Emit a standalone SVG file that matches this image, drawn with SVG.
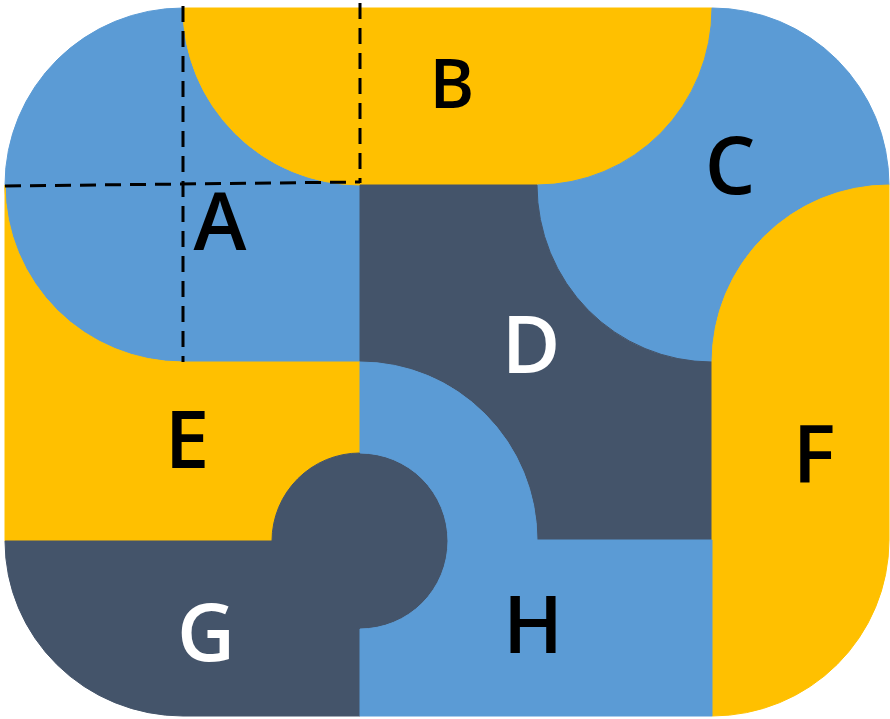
<svg xmlns="http://www.w3.org/2000/svg" width="890" height="719" viewBox="0 0 890 719">
<style>
.y{fill:#FFC000;stroke:#FFC000;stroke-width:1}
.b{fill:#5B9BD5;stroke:#5B9BD5;stroke-width:1}
.d{fill:#44546A;stroke:#44546A;stroke-width:1}
.t{font-family:"Open Sans","Noto Sans","Liberation Sans",sans-serif;font-weight:600;font-size:80px;text-anchor:middle;fill:#000}
.w{fill:#fff}
.g line{stroke:#000;stroke-width:3;stroke-dasharray:16 9;fill:none}
</style>
<rect width="890" height="719" fill="#fff"/>
<g id="A">
<path class="b" d="M183,8 A178,177 0 0 0 183,362 L360,362 L360,185 A177,177 0 0 1 183,8 Z"/>
<text class="t" x="220" y="250">A</text>
</g>
<g id="B">
<path class="y" d="M183,8 L712,8 A175,177 0 0 1 537,185 L360,185 A177,177 0 0 1 183,8 Z"/>
<text class="t" x="452" y="108" style="font-size:68px">B</text>
</g>
<g id="C">
<path class="b" d="M712,8 A177,177 0 0 1 889,185 A177,177 0 0 0 712,362 A175,177 0 0 1 537,185 A175,177 0 0 0 712,8 Z"/>
<text class="t" x="730" y="194">C</text>
</g>
<g id="D">
<path class="d" d="M360,185 L537,185 A175,177 0 0 0 712,362 L712,540 L537,540 A177,178 0 0 0 360,362 Z"/>
<text class="t w" x="531" y="373">D</text>
</g>
<g id="E">
<path class="y" d="M5,185 A178,177 0 0 0 183,362 L360,362 L360,453 A88,88 0 0 0 272,541 L5,541 Z"/>
<text class="t" x="187" y="468">E</text>
</g>
<g id="F">
<path class="y" d="M889,185 L889,540 A177,176 0 0 1 712,716 L712,362 A177,177 0 0 1 889,185 Z"/>
<text class="t" x="814" y="483">F</text>
</g>
<g id="G">
<path class="d" d="M5,541 L272,541 A88,88 0 1 1 360,629 L360,716 L183,716 A178,175 0 0 1 5,541 Z"/>
<text class="t w" x="206" y="661">G</text>
</g>
<g id="H">
<path class="b" d="M360,362 A177,178 0 0 1 537,540 L712,540 L712,716 L360,716 L360,629 A88,88 0 0 0 360,453 Z"/>
<text class="t" x="533" y="653">H</text>
</g>
<g id="connectors" class="g">
<line x1="183" y1="6" x2="183" y2="362"/>
<line x1="360" y1="3" x2="360" y2="183"/>
<line x1="5" y1="186" x2="360" y2="182"/>
</g>
</svg>
